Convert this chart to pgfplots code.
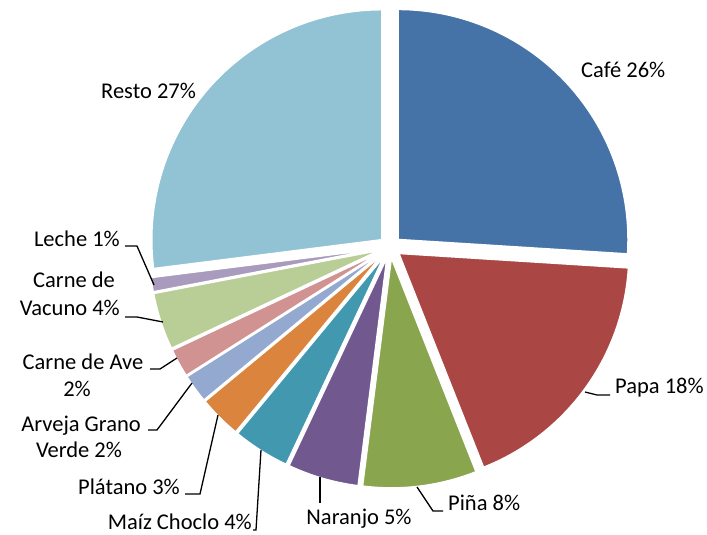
\documentclass[border=0pt]{standalone}
\usepackage{pgfplots}
\pgfplotsset{compat=1.18}
\usepackage{pgfplotstable}
\usepackage{fontspec}
\setmainfont{Carlito}

\definecolor{c1}{HTML}{4572A7}
\definecolor{c2}{HTML}{AA4643}
\definecolor{c3}{HTML}{89A54E}
\definecolor{c4}{HTML}{71588F}
\definecolor{c5}{HTML}{4198AF}
\definecolor{c6}{HTML}{DB843D}
\definecolor{c7}{HTML}{93A9CF}
\definecolor{c8}{HTML}{D19392}
\definecolor{c9}{HTML}{B9CD96}
\definecolor{c10}{HTML}{A99BBD}
\definecolor{c11}{HTML}{91C3D5}

% share of each product, clockwise from 12 o'clock
\pgfplotstableread[col sep=comma]{
name,value,color
Café,26,c1
Papa,18,c2
Piña,8,c3
Naranjo,5,c4
Maíz Choclo,4,c5
Plátano,3,c6
Arveja Grano Verde,2,c7
Carne de Ave,2,c8
Carne de Vacuno,4,c9
Leche,1,c10
Resto,27,c11
}\piedata

\tikzset{lbl/.style={font=\fontsize{22.5}{27}\selectfont, inner sep=0pt, text=black},
         lead/.style={black, line width=1.3pt}}

\begin{document}
\begin{tikzpicture}
\useasboundingbox (0,0) rectangle (707pt,535pt);
\begin{axis}[
  at={(0pt,0pt)}, anchor=origin,
  scale only axis, width=707pt, height=535pt,
  xmin=0, xmax=707, ymin=0, ymax=535,
  hide axis, clip=false,
]
\pgfplotstablegetrowsof{\piedata}
\pgfmathtruncatemacro\nrows{\pgfplotsretval-1}
\def\cum{0}
\pgfplotsforeachungrouped \i in {0,...,\nrows}{
  \pgfplotstablegetelem{\i}{value}\of\piedata \let\val\pgfplotsretval
  \pgfplotstablegetelem{\i}{color}\of\piedata \let\col\pgfplotsretval
  \pgfmathsetmacro\aone{90-3.6*\cum}
  \pgfmathsetmacro\atwo{90-3.6*(\cum+\val)}
  \pgfmathsetmacro\amid{(\aone+\atwo)/2}
  \pgfmathsetmacro\ox{390+11*cos(\amid)}
  \pgfmathsetmacro\oy{288+11*sin(\amid)}
  \edef\wedge{\noexpand\fill[fill=\col, draw=white, line width=1.5pt]
    (axis cs:\ox,\oy) -- ++(\aone:230pt)
    arc[start angle=\aone, end angle=\atwo, radius=230pt] -- cycle;}
  \wedge
  \pgfmathsetmacro\cum{\cum+\val}
}

% leader lines
\draw[lead] (axis cs:585,143) -- (axis cs:597,140) -- (axis cs:610,140);
\draw[lead] (axis cs:417,48) -- (axis cs:433,24) -- (axis cs:443,24);
\draw[lead] (axis cs:320,58) -- (axis cs:320,32);
\draw[lead] (axis cs:261,85) -- (axis cs:256,5) -- (axis cs:253,5);
\draw[lead] (axis cs:218,120) -- (axis cs:200,41) -- (axis cs:185,41);
\draw[lead] (axis cs:192,152) -- (axis cs:157,105) -- (axis cs:148,105);
\draw[lead] (axis cs:177,177) -- (axis cs:160,166) -- (axis cs:150,166);
\draw[lead] (axis cs:163,213) -- (axis cs:137,218) -- (axis cs:125,218);
\draw[lead] (axis cs:154,250) -- (axis cs:137,289) -- (axis cs:125,289);

% labels
\node[lbl, anchor=base west] at (axis cs:581,457) {Café 26\%};
\node[lbl, anchor=base west] at (axis cs:101,436) {Resto 27\%};
\node[lbl, anchor=base west] at (axis cs:615,141) {Papa 18\%};
\node[lbl, anchor=base west] at (axis cs:448,24) {Piña 8\%};
\node[lbl, anchor=base] at (axis cs:359,10) {Naranjo 5\%};
\node[lbl, anchor=base east] at (axis cs:252,5) {Maíz Choclo 4\%};
\node[lbl, anchor=base east] at (axis cs:180,40) {Plátano 3\%};
\node[lbl, anchor=base] at (axis cs:81,103) {Arveja Grano};
\node[lbl, anchor=base] at (axis cs:79,77) {Verde 2\%};
\node[lbl, anchor=base] at (axis cs:83,165) {Carne de Ave};
\node[lbl, anchor=base] at (axis cs:77,138) {2\%};
\node[lbl, anchor=base] at (axis cs:74,247) {Carne de};
\node[lbl, anchor=base east] at (axis cs:120,219) {Vacuno 4\%};
\node[lbl, anchor=base east] at (axis cs:120,288) {Leche 1\%};
\end{axis}
\end{tikzpicture}
\end{document}
